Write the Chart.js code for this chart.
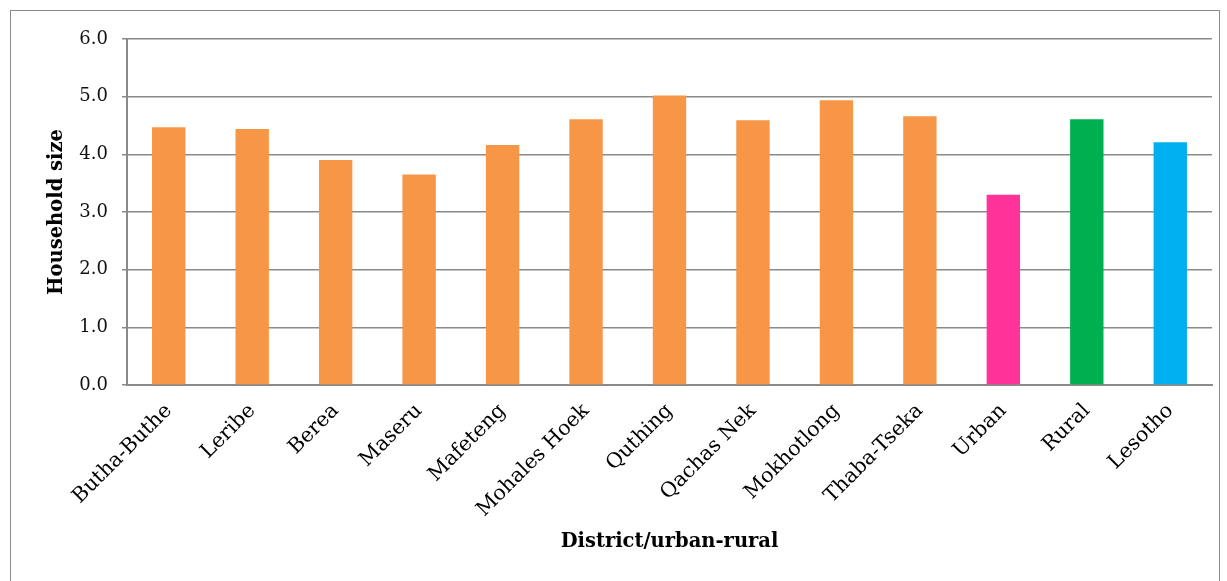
<!DOCTYPE html>
<html>
<head>
<meta charset="utf-8">
<script src="https://cdn.jsdelivr.net/npm/chart.js@4"></script>
<style>
  html, body { margin: 0; padding: 0; background: #fff; overflow: hidden; }
  #frame {
    position: absolute; left: 10px; top: 10px; width: 1210px; height: 600px;
    border: 1.5px solid #8a8a8a; box-sizing: border-box;
  }
  #wrap { position: absolute; left: 0; top: 0; width: 1227px; height: 581px; }
</style>
</head>
<body>
<div id="frame"></div>
<div id="wrap"><canvas id="chart"></canvas></div>
<script>
// 各区/城乡的户规模
const categories = ['Butha-Buthe', 'Leribe', 'Berea', 'Maseru', 'Mafeteng', 'Mohales Hoek',
  'Quthing', 'Qachas Nek', 'Mokhotlong', 'Thaba-Tseka', 'Urban', 'Rural', 'Lesotho'];
const householdSize = [4.47, 4.44, 3.90, 3.65, 4.16, 4.61, 5.02, 4.59, 4.94, 4.66, 3.30, 4.61, 4.21];
const barColors = ['#F79646', '#F79646', '#F79646', '#F79646', '#F79646', '#F79646', '#F79646',
  '#F79646', '#F79646', '#F79646', '#FF3399', '#00B050', '#00B0F0'];
const yTicks = [0, 1, 2, 3, 4, 5, 6];

const gridGray = '#8a8a8a';
const serif = "'DejaVu Serif', serif";

new Chart(document.getElementById('chart'), {
  type: 'bar',
  data: {
    labels: categories,
    datasets: [{
      data: householdSize,
      backgroundColor: barColors,
      borderWidth: 0,
      barPercentage: 0.4,
      categoryPercentage: 1.0
    }]
  },
  options: {
    responsive: true,
    maintainAspectRatio: false,
    animation: false,
    layout: { padding: { top: 39, right: 15, left: 0, bottom: 0 } },
    plugins: { legend: { display: false }, tooltip: { enabled: false } },
    scales: {
      x: {
        afterFit: s => { s.height = 196; },
        grid: { display: false },
        border: { color: gridGray, width: 2 },
        ticks: {
          color: '#000',
          minRotation: 45, maxRotation: 45,
          padding: 6,
          font: { family: serif, size: 20.5 }
        },
        title: {
          display: true,
          text: 'District/urban-rural',
          color: '#000',
          padding: { top: 0, bottom: 27 },
          font: { family: serif, size: 19.5, weight: 'bold' }
        }
      },
      y: {
        min: 0, max: 6,
        afterFit: s => { s.width = 127; },
        afterBuildTicks: s => { s.ticks = yTicks.map(v => ({ value: v })); },
        grid: { color: gridGray, lineWidth: 1.5, tickLength: 5 },
        border: { color: gridGray, width: 2 },
        ticks: {
          color: '#111',
          padding: 14,
          font: { family: serif, size: 18 },
          callback: v => v.toFixed(1)
        },
        title: {
          display: true,
          text: 'Household size',
          color: '#000',
          padding: { top: 45, bottom: 0 },
          font: { family: serif, size: 19.5, weight: 'bold' }
        }
      }
    }
  }
});
</script>
</body>
</html>
